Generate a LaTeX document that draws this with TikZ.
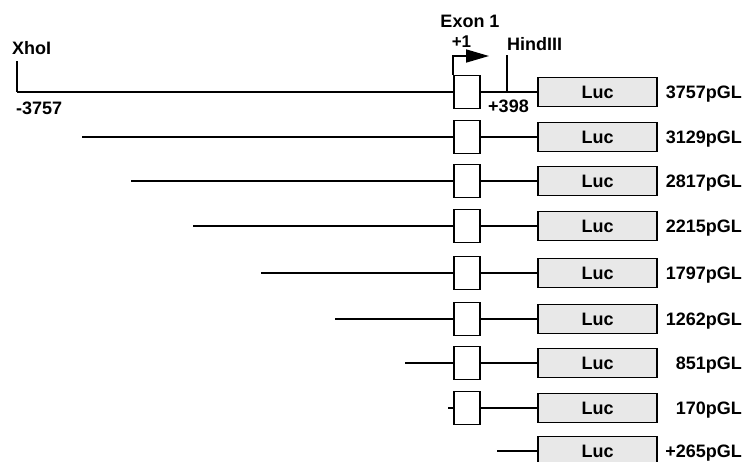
\documentclass[tikz,border=0pt]{standalone}
\usepackage{fontspec}
\setmainfont{Liberation Sans}
\usetikzlibrary{arrows.meta}
\begin{document}
\begin{tikzpicture}[x=1pt,y=-1pt,
  dna/.style={line width=1.5pt},
  exon/.style={draw, line width=1.7pt, fill=white, minimum width=26pt, minimum height=33pt, inner sep=0pt},
  luc/.style={draw, line width=1.7pt, fill=gray!18, minimum width=119pt, minimum height=29pt, inner sep=0pt,
              font=\bfseries\fontsize{18}{18}\selectfont, text depth=0pt},
  lab/.style={font=\bfseries\fontsize{18}{18}\selectfont, inner sep=0pt, text depth=0pt},
  small/.style={font=\bfseries\fontsize{17}{17}\selectfont, inner sep=0pt, text depth=0pt}]
\useasboundingbox (0,0) rectangle (746,461);

% rows: y position, start of the upstream fragment, construct name
\foreach \i/\y/\s/\n in {1/92/17/3757pGL, 2/137/82/3129pGL, 3/181/131/2817pGL, 4/226/193/2215pGL,
                         5/273/261/1797pGL, 6/319/335/1262pGL, 7/363/405/851pGL, 8/408/448/170pGL}{
  \coordinate (s\i) at (\s,\y);
  \node[exon] (e\i) at (467,\y) {};
  \node[luc] (l\i) at (597.5,\y) {Luc};
  \node[lab, anchor=east] (n\i) at (742,\y) {\n};
  \draw[dna] (s\i) -- (e\i.west);
  \draw[dna] (e\i.east) -- (l\i.west);
}

% promoter-less construct
\coordinate (s9) at (497,451);
\node[luc] (l9) at (597.5,451) {Luc};
\node[lab, anchor=east] (n9) at (742,451) {+265pGL};
\draw[dna] (s9) -- (l9.west);

% XhoI site
\coordinate (xho) at (17,61);
\draw[dna] (xho) -- (s1);
\node[lab, anchor=west] (xhol) at (12,47.5) {XhoI};
\node[lab, anchor=west] (m3757) at (16,108) {-3757};

% HindIII site
\coordinate (hind) at (507,55);
\coordinate (hindb) at (507,92);
\draw[dna] (hind) -- (hindb);
\node[lab, anchor=west] (hindlab) at (507,43.5) {HindIII};
\node[lab] (p398) at (508.5,106) {+398};

% transcription start
\coordinate (tss) at (489,56);
\draw[line width=1.7pt, -{Triangle[length=23pt,width=13pt]}] (e1.north west) |- (tss);
\node[small] (p1) at (461.5,42) {+1};
\node[lab] (exlab) at (470,21.5) {Exon 1};
\end{tikzpicture}
\end{document}
